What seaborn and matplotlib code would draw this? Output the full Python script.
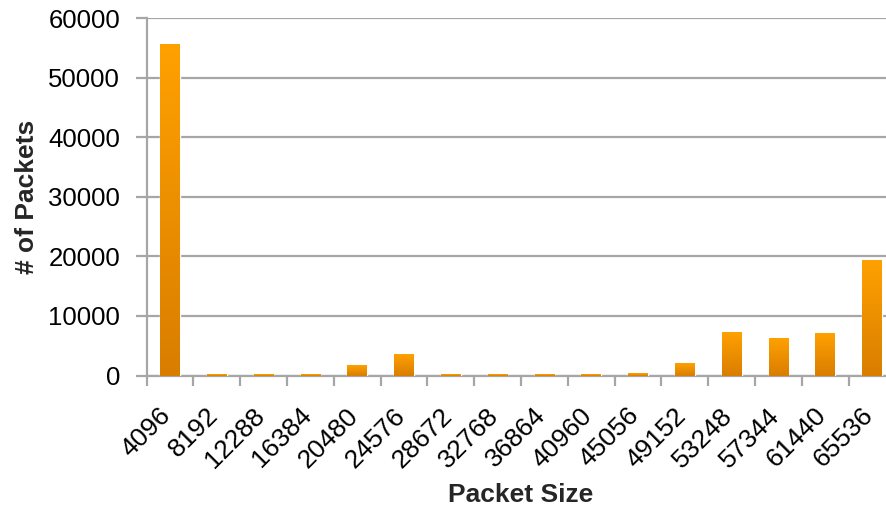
import numpy as np
import pandas as pd
import matplotlib
matplotlib.use("Agg")
import matplotlib.pyplot as plt
from matplotlib.colors import LinearSegmentedColormap
from matplotlib.ticker import FixedLocator
from matplotlib.transforms import ScaledTranslation
import seaborn as sns

# Packet size buckets and how many packets fell into each
packet_sizes = ["4096", "8192", "12288", "16384", "20480", "24576", "28672", "32768",
                "36864", "40960", "45056", "49152", "53248", "57344", "61440", "65536"]
packet_counts = [55700, 220, 220, 220, 1750, 3600, 220, 220,
                 220, 220, 450, 2150, 7300, 6300, 7130, 19400]
y_ticks = [0, 10000, 20000, 30000, 40000, 50000, 60000]

df = pd.DataFrame({"size": packet_sizes, "count": packet_counts})

sns.set_style("white")
plt.rcParams["font.family"] = ["Liberation Sans", "DejaVu Sans"]

fig = plt.figure(figsize=(8.87, 5.08), dpi=100)
ax = fig.add_axes([0.1652, 0.2608, 0.8444, 0.7037])

sns.barplot(data=df, x="size", y="count", color="#F39200", width=0.42,
            saturation=1, ax=ax, zorder=3)

# vertical orange gradient inside each bar
grad = LinearSegmentedColormap.from_list("bar", ["#D97D00", "#FFA100"])
ramp = np.linspace(0, 1, 256).reshape(-1, 1)
for patch in ax.patches:
    x0, y0 = patch.get_x(), patch.get_y()
    w, h = patch.get_width(), patch.get_height()
    im = ax.imshow(ramp, cmap=grad, origin="lower", aspect="auto",
                   extent=(x0, x0 + w, y0, y0 + h), zorder=4)
    im.set_clip_path(patch)

ax.set_xlim(-0.5, len(packet_sizes) - 0.5)
ax.set_ylim(0, 60000)
ax.set_yticks(y_ticks)
ax.set_yticklabels([str(v) for v in y_ticks])

# gridlines
ax.yaxis.grid(True, color="#A6A6A6", linewidth=1.6, zorder=0)
ax.xaxis.grid(False)
ax.set_axisbelow(True)

for side in ["top", "right"]:
    ax.spines[side].set_visible(False)
for side in ["left", "bottom"]:
    ax.spines[side].set_color("#A6A6A6")
    ax.spines[side].set_linewidth(1.6)

# category labels at centres, tick marks at the boundaries between bars
ax.tick_params(axis="x", which="major", length=0, pad=20, labelsize=19,
               labelcolor="black")
ax.xaxis.set_minor_locator(FixedLocator(np.arange(-0.5, len(packet_sizes), 1.0)))
ax.tick_params(axis="x", which="minor", length=7, width=1.6, color="#A6A6A6",
               direction="out", bottom=True)
ax.tick_params(axis="y", which="major", length=8, width=1.6, color="#A6A6A6",
               direction="out", left=True, pad=11, labelsize=18.5, labelcolor="black")
shift = ScaledTranslation(-8 / 72, 0, fig.dpi_scale_trans)
for lbl in ax.get_xticklabels():
    lbl.set_rotation(45)
    lbl.set_ha("right")
    lbl.set_rotation_mode("anchor")
    lbl.set_transform(lbl.get_transform() + shift)

ax.set_xlabel("Packet Size", fontsize=19, fontweight="bold", labelpad=8)
ax.set_ylabel("# of Packets", fontsize=19, fontweight="bold", labelpad=7)

fig.savefig("out.png", dpi=100)
